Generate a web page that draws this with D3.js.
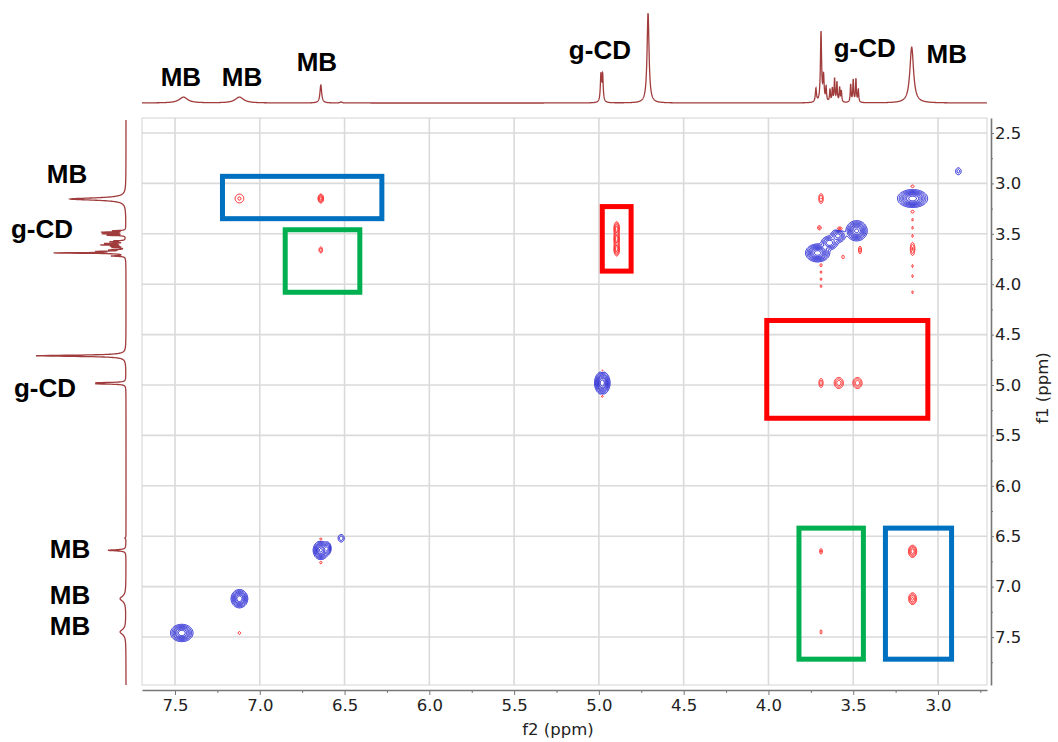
<!DOCTYPE html>
<meta charset="utf-8">
<script src="https://d3js.org/d3.v7.min.js"></script>
<style>
  body { margin: 0px; background: #fff; }
  .tick text { fill: #222; font-size: 16.5px; font-family: "DejaVu Sans", sans-serif; }
  .axis-label { fill: #222; font-size: 16.5px; font-family: "DejaVu Sans", sans-serif; }
  .peak-label { fill: #000; font-size: 26px; font-weight: bold; font-family: "Liberation Sans", Arial, sans-serif; }
</style>
<div id="my_dataviz"></div>
<script>

// 1D proton spectrum (ppm, relative height, half width in ppm)
const protonShift  = [7.45, 7.12, 6.64, 6.52, 4.988, 4.978, 4.71, 3.72, 3.69, 3.675, 3.66, 3.637, 3.623, 3.61, 3.596, 3.58, 3.57, 3.515, 3.50, 3.484, 3.47, 3.155];
const protonHeight = [0.065, 0.065, 0.2, 0.012, 0.3, 0.3, 1.0, 0.15, 0.78, 0.28, 0.16, 0.14, 0.15, 0.26, 0.22, 0.16, 0.12, 0.2, 0.25, 0.26, 0.14, 0.62];
const protonWidth  = [0.03, 0.03, 0.006, 0.006, 0.004, 0.004, 0.007, 0.004, 0.004, 0.004, 0.003, 0.003, 0.003, 0.003, 0.003, 0.003, 0.003, 0.003, 0.003, 0.003, 0.003, 0.013];

// 2D peaks: positive = diagonal (blue), negative = cross peaks (red)
const peakF2   = [3.15, 3.71, 3.64, 3.59, 3.48, 4.98, 6.64, 6.60, 6.52, 7.12, 7.46, 2.88,
                  7.12, 6.64, 6.64, 4.895, 4.895, 4.895, 3.69, 3.15, 3.15, 3.15, 6.64, 6.64, 4.98, 4.98,
                  3.69, 3.585, 3.475, 3.69, 3.69, 3.15, 3.15, 7.12,
                  3.70, 3.58, 3.46, 3.56, 3.69,
                  3.15, 3.15, 3.15, 3.15, 3.15, 3.15, 3.69, 3.69, 3.69];
const peakF1   = [3.15, 3.69, 3.59, 3.52, 3.47, 4.98, 6.64, 6.62, 6.52, 7.12, 7.46, 2.88,
                  3.15, 3.15, 3.66, 3.45, 3.55, 3.65, 3.15, 3.65, 3.03, 3.28, 6.53, 6.76, 4.86, 5.11,
                  4.98, 4.98, 4.98, 6.65, 7.45, 6.65, 7.12, 7.46,
                  3.44, 3.45, 3.66, 3.73, 3.81,
                  3.36, 3.44, 3.52, 3.82, 3.92, 4.08, 3.88, 3.95, 4.02];
const peakAmp  = [1.0, 1.0, 0.45, 0.4, 0.9, 1.0, 0.9, 0.3, 0.12, 0.8, 0.8, 0.1,
                  -0.09, -0.3, -0.12, -0.3, -0.3, -0.3, -0.15, -0.15, -0.08, -0.08, -0.08, -0.08, -0.08, -0.08,
                  -0.12, -0.2, -0.2, -0.1, -0.08, -0.3, -0.25, -0.08,
                  -0.1, -0.12, -0.12, -0.08, -0.08,
                  -0.07, -0.07, -0.07, -0.07, -0.07, -0.07, -0.07, -0.07, -0.07];
const peakWF2  = [0.035, 0.028, 0.022, 0.02, 0.025, 0.018, 0.018, 0.01, 0.012, 0.02, 0.027, 0.012,
                  0.02, 0.008, 0.007, 0.008, 0.008, 0.008, 0.008, 0.008, 0.008, 0.008, 0.006, 0.006, 0.006, 0.006,
                  0.008, 0.015, 0.015, 0.006, 0.004, 0.012, 0.012, 0.006,
                  0.008, 0.012, 0.006, 0.006, 0.005,
                  0.004, 0.004, 0.004, 0.004, 0.004, 0.004, 0.004, 0.004, 0.004];
const peakWF1  = [0.035, 0.035, 0.03, 0.03, 0.04, 0.045, 0.037, 0.03, 0.025, 0.037, 0.035, 0.025,
                  0.034, 0.022, 0.02, 0.035, 0.035, 0.035, 0.03, 0.04, 0.012, 0.012, 0.012, 0.012, 0.012, 0.012,
                  0.03, 0.03, 0.03, 0.02, 0.02, 0.03, 0.03, 0.012,
                  0.015, 0.012, 0.025, 0.015, 0.015,
                  0.014, 0.014, 0.014, 0.014, 0.014, 0.014, 0.014, 0.014, 0.014];

const f2Ticks = [7.5, 7.0, 6.5, 6.0, 5.5, 5.0, 4.5, 4.0, 3.5, 3.0];
const f1Ticks = [2.5, 3.0, 3.5, 4.0, 4.5, 5.0, 5.5, 6.0, 6.5, 7.0, 7.5];

const topLabels     = ["MB", "MB", "MB", "g-CD", "g-CD", "MB"];
const topLabelShift = [7.465, 7.105, 6.663, 4.994, 3.432, 2.948];
const sideLabels     = ["MB", "g-CD", "g-CD", "MB", "MB", "MB"];
const sideLabelShift = [2.90, 3.45, 5.03, 6.62, 7.08, 7.39];

// highlighted regions (ppm ranges)
const boxF2From = [7.22, 6.85, 4.98, 4.01, 3.82, 3.31];
const boxF2To   = [6.28, 6.41, 4.81, 3.06, 3.44, 2.92];
const boxF1From = [2.93, 3.46, 3.23, 4.36, 6.42, 6.42];
const boxF1To   = [3.35, 4.08, 3.87, 5.33, 7.72, 7.72];
const boxKind   = ["blue", "green", "red", "red", "green", "blue"];

const boxColors = { blue: "#0070c0", green: "#00b050", red: "#ff0000" };

var plotLeft = 142, plotRight = 987, plotTop = 118, plotBottom = 685;

var svg = d3.select("#my_dataviz")
  .append("svg")
    .attr("width", 1058)
    .attr("height", 742);

// scales (calibrated on tick positions, then widened to the frame)
var x = d3.scaleLinear().domain([7.5, 3.0]).range([175, 938]);
x.domain([x.invert(plotLeft), x.invert(plotRight)]).range([plotLeft, plotRight]);
var y = d3.scaleLinear().domain([2.5, 7.5]).range([133, 637]);
y.domain([y.invert(plotTop), y.invert(plotBottom)]).range([plotTop, plotBottom]);

// grid + frame
svg.append("g").selectAll("line")
  .data(f2Ticks).enter().append("line")
    .attr("x1", d => x(d)).attr("x2", d => x(d))
    .attr("y1", plotTop).attr("y2", plotBottom)
    .style("stroke", "#dadada").style("stroke-width", 1.6);
svg.append("g").selectAll("line")
  .data(f1Ticks).enter().append("line")
    .attr("y1", d => y(d)).attr("y2", d => y(d))
    .attr("x1", plotLeft).attr("x2", plotRight)
    .style("stroke", "#dadada").style("stroke-width", 1.6);
svg.append("rect")
  .attr("x", plotLeft).attr("y", plotTop)
  .attr("width", plotRight - plotLeft).attr("height", plotBottom - plotTop)
  .style("fill", "none").style("stroke", "#d4d4d4").style("stroke-width", 1);

// 2D contours
var nx = plotRight - plotLeft, ny = plotBottom - plotTop;
var grid = new Float64Array(nx * ny);
var pxF2 = Math.abs(x.invert(1) - x.invert(0)), pxF1 = Math.abs(y.invert(1) - y.invert(0));
peakF2.forEach(function(c2, k) {
  var cx = x(c2) - plotLeft, cy = y(peakF1[k]) - plotTop;
  var sx = peakWF2[k] / pxF2, sy = peakWF1[k] / pxF1;
  var i0 = Math.max(0, Math.floor(cx - 4 * sx)), i1 = Math.min(nx - 1, Math.ceil(cx + 4 * sx));
  var j0 = Math.max(0, Math.floor(cy - 4 * sy)), j1 = Math.min(ny - 1, Math.ceil(cy + 4 * sy));
  for (var j = j0; j <= j1; j++) {
    var dy = (j + 0.5 - cy) / sy;
    for (var i = i0; i <= i1; i++) {
      var dx = (i + 0.5 - cx) / sx;
      grid[j * nx + i] += peakAmp[k] * Math.exp(-0.5 * (dx * dx + dy * dy));
    }
  }
});
var levels = [0.04, 0.08, 0.14, 0.22, 0.32, 0.45, 0.6, 0.8];
var toPlot = d3.geoTransform({
  point: function(gx, gy) {
    this.stream.point(x(x.invert(plotLeft + gx)), y(y.invert(plotTop + gy)));
  }
});
var contourPath = d3.geoPath(toPlot);
var contours = d3.contours().size([nx, ny]).thresholds(levels);

svg.append("g").selectAll("path")
  .data(contours(Array.from(grid)))
  .enter().append("path")
    .attr("d", contourPath)
    .style("fill", "none").style("stroke", "#1c1cd4").style("stroke-width", 1);
svg.append("g").selectAll("path")
  .data(contours(Array.from(grid, v => -v)))
  .enter().append("path")
    .attr("d", contourPath)
    .style("fill", "none").style("stroke", "#ff2020").style("stroke-width", 1);

// 1D projections
function protonAt(v) {
  var s = 0;
  for (var k = 0; k < protonShift.length; k++) {
    var u = (v - protonShift[k]) / protonWidth[k];
    s += protonHeight[k] / (1 + u * u);
  }
  return s;
}
var topSamples = d3.range(x.domain()[0], x.domain()[1], -0.001);
var sideSamples = d3.range(y.invert(120), y.domain()[1], 0.001);
var yTop = d3.scaleLinear().domain([0, 1]).range([103, 13]);
var xSide = d3.scaleLinear().domain([0, 1]).range([126, 36]);

svg.append("path")
  .datum(topSamples)
  .attr("d", d3.line().x(d => x(d)).y(d => yTop(protonAt(d))))
  .style("fill", "none").style("stroke", "#a03c3c").style("stroke-width", 1.3);
svg.append("path")
  .datum(sideSamples)
  .attr("d", d3.line().y(d => y(d)).x(d => xSide(protonAt(d))))
  .style("fill", "none").style("stroke", "#a03c3c").style("stroke-width", 1.3);

// highlight boxes
svg.append("g").selectAll("rect")
  .data(boxKind).enter().append("rect")
    .attr("x", (d, i) => x(boxF2From[i]))
    .attr("y", (d, i) => y(boxF1From[i]))
    .attr("width", (d, i) => x(boxF2To[i]) - x(boxF2From[i]))
    .attr("height", (d, i) => y(boxF1To[i]) - y(boxF1From[i]))
    .style("fill", "none").style("stroke", d => boxColors[d]).style("stroke-width", 5);

// axes
var minorF2 = f2Ticks.map(d => d - 0.25).filter(d => x(d) < plotRight);
var minorF1 = f1Ticks.map(d => d + 0.25).filter(d => y(d) < plotBottom);

var xAxisG = svg.append("g").attr("transform", "translate(0,690)")
  .call(d3.axisBottom(x).tickValues(f2Ticks).tickFormat(d3.format(".1f")).tickSize(5).tickSizeOuter(0).tickPadding(4));
svg.append("g").attr("transform", "translate(0,690)")
  .call(d3.axisBottom(x).tickValues(minorF2).tickFormat("").tickSize(3).tickSizeOuter(0))
  .select(".domain").remove();
var yAxisG = svg.append("g").attr("transform", "translate(991,0)")
  .call(d3.axisRight(y).tickValues(f1Ticks).tickFormat(d3.format(".1f")).tickSize(3).tickSizeOuter(0).tickPadding(1));
svg.append("g").attr("transform", "translate(991,0)")
  .call(d3.axisRight(y).tickValues(minorF1).tickFormat("").tickSize(2).tickSizeOuter(0))
  .select(".domain").remove();
svg.selectAll(".domain").style("stroke", "#777").style("stroke-width", 1.6);
svg.selectAll(".tick line").style("stroke", "#777");

svg.append("text").attr("class", "axis-label")
  .attr("x", 558).attr("y", 735).style("text-anchor", "middle").text("f2 (ppm)");
svg.append("text").attr("class", "axis-label")
  .attr("transform", "translate(1048,388) rotate(-90)")
  .style("text-anchor", "middle").text("f1 (ppm)");

// peak labels
var topBaseline = [86, 86, 71, 59, 57, 63];
svg.append("g").selectAll("text")
  .data(topLabels).enter().append("text")
    .attr("class", "peak-label")
    .attr("x", (d, i) => x(topLabelShift[i]))
    .attr("y", (d, i) => topBaseline[i])
    .style("text-anchor", "middle")
    .text(d => d);
var sideCenter = [67, 42, 45, 70, 70, 70];
svg.append("g").selectAll("text")
  .data(sideLabels).enter().append("text")
    .attr("class", "peak-label")
    .attr("x", (d, i) => sideCenter[i])
    .attr("y", (d, i) => y(sideLabelShift[i]))
    .attr("dy", "0.36em")
    .style("text-anchor", "middle")
    .text(d => d);

</script>
